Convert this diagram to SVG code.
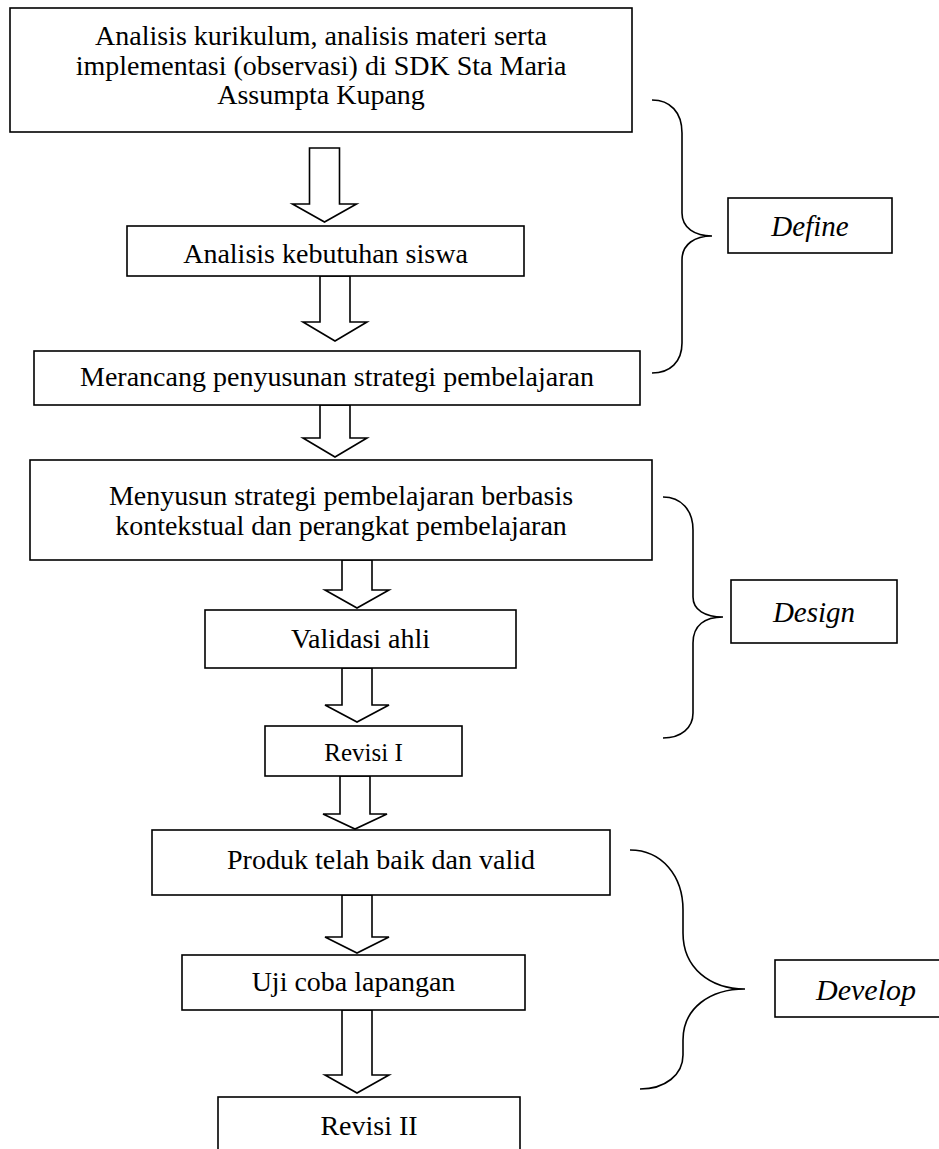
<svg xmlns="http://www.w3.org/2000/svg" width="939" height="1149" viewBox="0 0 939 1149">
<style>
.box{fill:#fff;stroke:#000;stroke-width:1.6}
.arr{fill:#fff;stroke:#000;stroke-width:1.6;stroke-linejoin:miter}
.brace{fill:none;stroke:#000;stroke-width:1.6}
text{font-family:"Liberation Serif","Times New Roman",serif;font-size:28px;fill:#000;text-anchor:middle}
.it{font-style:italic;font-size:29px}
</style>
<rect width="939" height="1149" fill="#fff"/>
<g id="connectors">
<path class="arr" d="M309.5,148 H339.5 V204 H356.5 L324.5,222 L292.5,204 H309.5 Z"/>
<path class="arr" d="M320,276 H350 V322 H367 L335,341 L303,322 H320 Z"/>
<path class="arr" d="M320,405 H350 V438 H367 L335,457 L303,438 H320 Z"/>
<path class="arr" d="M342,560 H372 V590 H389 L357,608 L325,590 H342 Z"/>
<path class="arr" d="M342,668 H372 V705 H389 L357,722 L325,705 H342 Z"/>
<path class="arr" d="M340,776 H370 V814 H387 L355,829 L323,814 H340 Z"/>
<path class="arr" d="M342,895 H372 V937 H389 L357,953 L325,937 H342 Z"/>
<path class="arr" d="M342,1010 H372 V1075 H389 L357,1093 L325,1075 H342 Z"/>
</g>
<g id="n1"><rect class="box" x="10" y="8" width="622" height="124"/>
<text x="321" y="45">Analisis kurikulum, analisis materi serta</text>
<text x="321" y="75">implementasi (observasi) di SDK Sta Maria</text>
<text x="321" y="104">Assumpta Kupang</text></g>
<g id="n2"><rect class="box" x="127" y="226" width="397" height="50"/>
<text x="325.5" y="263">Analisis kebutuhan siswa</text></g>
<g id="n3"><rect class="box" x="34" y="351" width="606" height="54"/>
<text x="337" y="386">Merancang penyusunan strategi pembelajaran</text></g>
<g id="n4"><rect class="box" x="30" y="460" width="622" height="100"/>
<text x="341" y="505">Menyusun strategi pembelajaran berbasis</text>
<text x="341" y="535">kontekstual dan perangkat pembelajaran</text></g>
<g id="n5"><rect class="box" x="205" y="610" width="311" height="58"/>
<text x="360.5" y="648">Validasi ahli</text></g>
<g id="n6"><rect class="box" x="265" y="726" width="197" height="50"/>
<text x="363.5" y="761" style="font-size:25px">Revisi I</text></g>
<g id="n7"><rect class="box" x="152" y="830" width="458" height="65"/>
<text x="381" y="869">Produk telah baik dan valid</text></g>
<g id="n8"><rect class="box" x="182" y="955" width="343" height="55"/>
<text x="353.5" y="991">Uji coba lapangan</text></g>
<g id="n9"><rect class="box" x="218" y="1097" width="302" height="70"/>
<text x="369" y="1135">Revisi II</text></g>
<g id="define">
<path class="brace" d="M652,100 C670,100 682,112 682,133 V213 C682,228 695,236 712,236 C695,236 682,244 682,260 V343 C682,362 670,373 652,373"/>
<rect class="box" x="728" y="198" width="164" height="55"/>
<text class="it" x="810" y="236">Define</text></g>
<g id="design">
<path class="brace" d="M663,497 C681,497 693,510 693,530 V597 C693,610 705,617 723,617 C705,617 693,625 693,643 V713 C693,728 681,738 663,738"/>
<rect class="box" x="731" y="580" width="166" height="63"/>
<text class="it" x="814" y="622">Design</text></g>
<g id="develop">
<path class="brace" d="M630,850 C662,850 683,876 683,910 V933 C683,968 710,989 745,989 C710,989 683,1008 683,1040 V1055 C683,1075 665,1089 640,1089"/>
<rect class="box" x="775" y="960" width="180" height="57"/>
<text class="it" x="866" y="1000" style="font-size:30px">Develop</text></g>
</svg>
